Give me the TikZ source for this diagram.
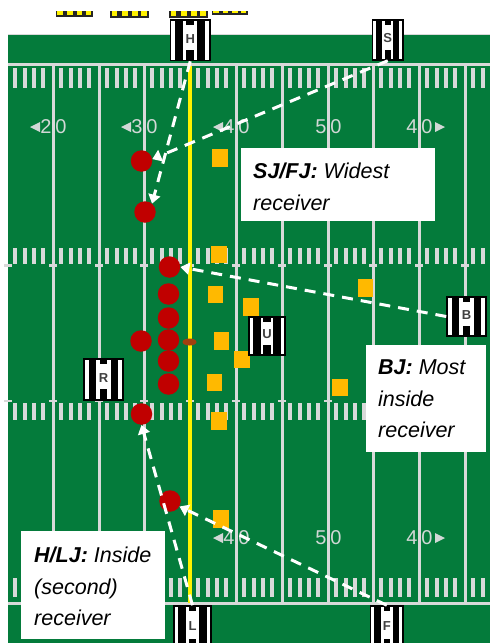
\documentclass[tikz,border=0pt]{standalone}
\usepackage{fontspec}
\setmainfont{Liberation Sans}
\usetikzlibrary{arrows.meta,shapes.geometric}
\definecolor{turf}{HTML}{047B3B}
\definecolor{chalk}{HTML}{D9D9D9}
\definecolor{numc}{HTML}{D2D8D6}
\definecolor{offc}{HTML}{C00000}
\definecolor{defc}{HTML}{FFB900}
\definecolor{ballc}{HTML}{A0400F}
\tikzset{
  offense/.style={circle,fill=offc,inner sep=0pt,minimum size=21.5pt},
  defense/.style={rectangle,fill=defc,inner sep=0pt,minimum width=#1,minimum height=17.5pt},
  defense/.default=16pt,
  official/.style={rectangle,draw=black,line width=1.5pt,fill=white,inner sep=0pt},
  keyline/.style={draw=white,dash pattern=on 11pt off 8pt,line width=3pt,-{Triangle[length=9pt,width=12pt,fill=white]}},
  chalkline/.style={draw=chalk,line width=3pt},
  tick/.style={draw=chalk,line width=3.4pt},
  yardnum/.style={text=numc,inner sep=0pt,font=\fontsize{20}{20}\selectfont},
  calltext/.style={inner sep=0pt,anchor=north west,align=left,text=black,font=\itshape\fontsize{21.5}{31.5}\selectfont}
}
\newcommand{\stripebox}[6]{%name,x0,y0,x1,y1,letter
  \pgfmathsetmacro{\bw}{#4-#2}\pgfmathsetmacro{\bh}{#5-#3}
  \pgfmathsetmacro{\cx}{(#2+#4)/2}\pgfmathsetmacro{\cy}{(#3+#5)/2}
  \node[official,minimum width=\bw pt,minimum height=\bh pt] (#1) at (\cx,\cy) {};
  \fill[black] (#2+.12*\bw,#3) rectangle (#2+.32*\bw,#5);
  \fill[black] (#2+.68*\bw,#3) rectangle (#2+.88*\bw,#5);
  \fill[black] (#2+.40*\bw,#3) rectangle (#2+.60*\bw,#3+.12*\bh);
  \fill[black] (#2+.40*\bw,#3+.74*\bh) rectangle (#2+.60*\bw,#5);
  \node[text=black!75,inner sep=0pt,font=\bfseries\fontsize{13}{13}\selectfont] (#1t) at (\cx,\cy-.04*\bh) {#6};
}
\newcommand{\yellowstrip}[4]{%x0,x1,y1,yellow bottom
  \fill[black!85] (#1,11) rectangle (#2,#3);
  \foreach \f in {.04,.30,.56,.80} \fill[yellow] ({#1+\f*(#2-#1)},11) rectangle ({#1+(\f+.15)*(#2-#1)},#4);
}
\begin{document}
\begin{tikzpicture}[x=1pt,y=-1pt]
\useasboundingbox (0,0) rectangle (490,643);
\clip (0,0) rectangle (490,643);
\fill[white] (0,0) rectangle (490,643);
% top strips
\yellowstrip{56}{93}{17}{15}
\yellowstrip{110}{149}{17.5}{15.5}
\yellowstrip{169}{208}{18}{16}
\yellowstrip{212}{248}{14.5}{12.5}
% field
\fill[turf] (8,35) rectangle (490,643);
\draw[chalk,line width=1pt] (8,34.5) -- (490,34.5);
\draw[chalkline] (8,64) -- (490,64);
\draw[chalkline] (8,603.5) -- (490,603.5);
\foreach \L in {53,99,144,236,282,328,373,419,465} \draw[chalkline] (\L,64) -- (\L,603);
% hash marks
\foreach \L in {7,53,99,144,190,236,282,328,373,419} {
  \foreach \o in {8,18,27,36} {
    \foreach \a/\b in {68/88,248/264,403/420,578/597} \draw[tick] (\L+\o,\a) -- (\L+\o,\b);
  }
}
\foreach \a/\b in {68/88,248/264,403/420,578/597} {\draw[tick] (473,\a) -- (473,\b); \draw[tick] (483,\a) -- (483,\b);}
\foreach \L in {8,53,99,144,190,236,282,328,373,419,465} {
  \draw[chalk,line width=2.5pt] (\L-4,265.5) -- (\L+4,265.5);
  \draw[chalk,line width=2.5pt] (\L-4,401) -- (\L+4,401);
}
% yard numbers
\foreach \L/\d/\e/\yy in {53/2/0/127,144/3/0/127,236/4/0/127,328/5/0/127,419/4/0/127,236/4/0/538,328/5/0/538,419/4/0/538} {
  \node[yardnum] at (\L-7,\yy) {\d};
  \node[yardnum] at (\L+8,\yy) {\e};
}
\foreach \L/\yy in {53/127,144/127,236/127,236/538} \fill[numc] (\L-23,\yy) -- (\L-13,\yy-5) -- (\L-13,\yy+5) -- cycle;
\foreach \L/\yy in {419/127,419/538} \fill[numc] (\L+26,\yy) -- (\L+16,\yy-5) -- (\L+16,\yy+5) -- cycle;
% line to gain
\draw[yellow,line width=3.5pt] (190,66) -- (190,603);
% defense
\node[defense] (d1) at (219.5,158) {};
\node[defense] (d2) at (218.5,254.5) {};
\node[defense=15pt] (d3) at (215,294.5) {};
\node[defense] (d4) at (251,307) {};
\node[defense=15pt] (d5) at (221.5,341) {};
\node[defense] (d6) at (241.5,359.5) {};
\node[defense=15pt] (d7) at (214.5,382.5) {};
\node[defense] (d8) at (218.5,421) {};
\node[defense] (d9) at (220.5,519) {};
\node[defense=15pt] (d10) at (365.5,288) {};
\node[defense] (d11) at (340,387.5) {};
% offense
\node[offense] (p1) at (141.5,161) {};
\node[offense] (p2) at (145,212) {};
\node[offense] (p3) at (169.5,267) {};
\node[offense] (p4) at (168.5,294) {};
\node[offense] (p5) at (168.5,318) {};
\node[offense] (p6) at (168.5,340) {};
\node[offense] (p7) at (168.5,361) {};
\node[offense] (p8) at (168.5,384) {};
\node[offense] (p9) at (141,341) {};
\node[offense] (p10) at (141.5,414) {};
\node[offense] (p11) at (170,501) {};
\node[fill=ballc,ellipse,inner sep=0pt,minimum width=14pt,minimum height=7pt] (ball) at (189.5,342) {};
% callouts
\fill[white] (241,148) rectangle (435,221);
\node[calltext] (t1) at (253,163) {\textbf{SJ/FJ:} Widest\\receiver};
\fill[white] (366,345) rectangle (486,452);
\node[calltext] (t2) at (378,360) {\textbf{BJ:} Most\\inside\\receiver};
\fill[white] (21,531) rectangle (165,639);
\node[calltext] (t3) at (34,547) {\textbf{H/LJ:} Inside\\(second)\\receiver};
% officials
\stripebox{H}{170.5}{20}{210}{60.5}{H}
\stripebox{S}{372.5}{20}{403}{60}{S}
\stripebox{L}{174}{606}{211}{650}{L}
\stripebox{F}{370.5}{606}{403}{650}{F}
\stripebox{B}{447}{297}{486}{336}{B}
\stripebox{U}{249}{317}{285}{355}{U}
\stripebox{R}{84}{359}{123}{400}{R}
% keys
\draw[keyline] (H.south) -- (p2.50);
\draw[keyline] (S.south) -- (p1.10);
\draw[keyline] (B.west) -- (p3.east);
\draw[keyline] (L.north) -- (p10.south);
\draw[keyline] (F.north) -- (p11.-30);
\end{tikzpicture}
\end{document}
